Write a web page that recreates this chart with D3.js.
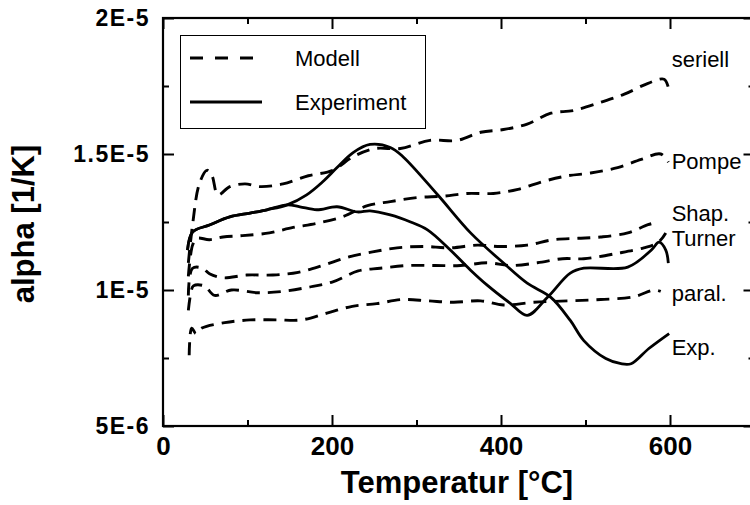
<!DOCTYPE html>
<html>
<head>
<meta charset="utf-8">
<script src="https://cdn.jsdelivr.net/npm/d3@7"></script>
<style>
  body { margin: 0; background: #fff; }
  svg { display: block; font-family: "Liberation Sans", Arial, sans-serif; }
</style>
</head>
<body>
<script>
// ---------- data ----------
const xTicks = [0, 200, 400, 600];
const xMinorTicks = [100, 300, 500, 700];
const yTicks = [5e-6, 1e-5, 1.5e-5, 2e-5];
const yTickLabels = ["5E-6", "1E-5", "1.5E-5", "2E-5"];
const yMinorTicks = [7.5e-6, 1.25e-5, 1.75e-5];

// Experiment (solid) – curve ending at "Exp."
const expATemp  = [29, 35, 55, 79, 103, 123, 147, 170, 189, 206, 225, 245, 269, 284, 325, 364, 403, 431, 459, 482, 498, 524, 542, 554, 575, 599];
const expAAlpha = [11.47e-6, 12.13e-6, 12.39e-6, 12.69e-6, 12.83e-6, 12.95e-6, 13.13e-6, 13.50e-6, 13.98e-6, 14.50e-6, 15.05e-6, 15.35e-6, 15.24e-6, 14.90e-6, 13.50e-6, 12.10e-6, 10.99e-6, 10.25e-6, 9.73e-6, 8.88e-6, 8.14e-6, 7.48e-6, 7.29e-6, 7.29e-6, 7.85e-6, 8.40e-6];
// Experiment (solid) – second curve
const expBTemp  = [29, 35, 55, 79, 103, 123, 147, 162, 182, 206, 230, 245, 269, 293, 313, 340, 364, 384, 411, 431, 455, 482, 498, 550, 578, 587, 595, 598];
const expBAlpha = [11.47e-6, 12.13e-6, 12.39e-6, 12.69e-6, 12.83e-6, 12.95e-6, 13.13e-6, 13.06e-6, 12.95e-6, 13.06e-6, 12.87e-6, 12.91e-6, 12.76e-6, 12.50e-6, 12.21e-6, 11.47e-6, 10.73e-6, 10.17e-6, 9.51e-6, 9.07e-6, 9.73e-6, 10.62e-6, 10.80e-6, 10.84e-6, 11.47e-6, 11.76e-6, 11.47e-6, 10.99e-6];

// Model curves (dashed)
const seriellTemp  = [30, 35, 43, 52, 58, 65, 79, 97, 115, 142, 172, 201, 225, 251, 281, 316, 348, 376, 403, 431, 459, 486, 518, 546, 574, 593, 598];
const seriellAlpha = [11.0e-6, 12.4e-6, 13.9e-6, 14.4e-6, 14.2e-6, 13.5e-6, 13.8e-6, 13.9e-6, 13.8e-6, 13.9e-6, 14.2e-6, 14.4e-6, 14.9e-6, 15.2e-6, 15.2e-6, 15.5e-6, 15.5e-6, 15.8e-6, 15.9e-6, 16.1e-6, 16.5e-6, 16.6e-6, 16.9e-6, 17.2e-6, 17.6e-6, 17.75e-6, 17.45e-6];

const pompeTemp  = [30, 35, 40, 55, 71, 94, 126, 154, 182, 213, 242, 269, 301, 332, 360, 391, 420, 451, 479, 506, 538, 566, 589, 598];
const pompeAlpha = [10.5e-6, 11.65e-6, 11.9e-6, 11.85e-6, 11.95e-6, 12.0e-6, 12.1e-6, 12.3e-6, 12.45e-6, 12.7e-6, 13.1e-6, 13.25e-6, 13.4e-6, 13.45e-6, 13.55e-6, 13.55e-6, 13.7e-6, 14.0e-6, 14.2e-6, 14.3e-6, 14.5e-6, 14.8e-6, 15.0e-6, 14.7e-6];

const shapTemp  = [30, 35, 47, 55, 71, 99, 130, 160, 189, 218, 248, 277, 308, 340, 372, 399, 431, 462, 491, 518, 550, 574, 586];
const shapAlpha = [9.8e-6, 10.8e-6, 10.8e-6, 10.6e-6, 10.45e-6, 10.55e-6, 10.55e-6, 10.65e-6, 10.9e-6, 11.2e-6, 11.4e-6, 11.55e-6, 11.6e-6, 11.55e-6, 11.65e-6, 11.6e-6, 11.65e-6, 11.85e-6, 11.9e-6, 11.95e-6, 12.1e-6, 12.4e-6, 12.5e-6];

const turnerTemp  = [30, 33, 36, 49, 61, 81, 112, 142, 172, 201, 231, 257, 290, 322, 352, 384, 411, 443, 473, 498, 538, 569, 586, 595];
const turnerAlpha = [9.25e-6, 9.9e-6, 10.15e-6, 10.15e-6, 9.8e-6, 10.0e-6, 9.9e-6, 9.95e-6, 10.1e-6, 10.3e-6, 10.7e-6, 10.8e-6, 10.9e-6, 10.9e-6, 10.9e-6, 11.0e-6, 10.9e-6, 11.0e-6, 11.15e-6, 11.15e-6, 11.35e-6, 11.55e-6, 11.75e-6, 12.1e-6];

const paralTemp  = [31, 34, 39, 46, 73, 103, 135, 164, 194, 224, 253, 283, 314, 344, 376, 403, 439, 479, 518, 557, 581, 589];
const paralAlpha = [7.6e-6, 8.6e-6, 8.4e-6, 8.6e-6, 8.8e-6, 8.9e-6, 8.9e-6, 8.9e-6, 9.15e-6, 9.4e-6, 9.5e-6, 9.65e-6, 9.6e-6, 9.55e-6, 9.6e-6, 9.45e-6, 9.55e-6, 9.6e-6, 9.65e-6, 9.75e-6, 10.0e-6, 9.95e-6];

// curve annotations (text, anchor temperature, anchor alpha at baseline)
const curveLabels = ["seriell", "Pompe", "Shap.", "Turner", "paral.", "Exp."];
const curveLabelTemp  = [602, 602, 602, 602, 602, 602];
const curveLabelAlpha = [18.2e-6, 14.45e-6, 12.55e-6, 11.62e-6, 9.6e-6, 7.6e-6];

const legendLabels = ["Modell", "Experiment"];

// ---------- drawing ----------
const W = 750, H = 505;
const svg = d3.select("body").append("svg").attr("width", W).attr("height", H);

const x = d3.scaleLinear().domain([0, 700]).range([163, 754.5]);
const y = d3.scaleLinear().domain([5e-6, 2e-5]).range([426, 18]);

const line = d3.line().x(d => x(d[0])).y(d => y(d[1])).curve(d3.curveCatmullRom.alpha(0.5));
const zip = (a, b) => a.map((v, i) => [v, b[i]]);

const dash = "13,8";

// model curves
[[seriellTemp, seriellAlpha], [pompeTemp, pompeAlpha], [shapTemp, shapAlpha],
 [turnerTemp, turnerAlpha], [paralTemp, paralAlpha]].forEach(([t, a]) => {
  svg.append("path").datum(zip(t, a)).attr("d", line)
    .attr("fill", "none").attr("stroke", "#000").attr("stroke-width", 2.9)
    .attr("stroke-dasharray", dash);
});
// experiment curves
[[expATemp, expAAlpha], [expBTemp, expBAlpha]].forEach(([t, a]) => {
  svg.append("path").datum(zip(t, a)).attr("d", line)
    .attr("fill", "none").attr("stroke", "#000").attr("stroke-width", 2.8)
    .attr("stroke-linejoin", "round");
});

// frame
svg.append("rect")
  .attr("x", x(0)).attr("y", y(2e-5))
  .attr("width", x(700) - x(0)).attr("height", y(5e-6) - y(2e-5))
  .attr("fill", "none").attr("stroke", "#000").attr("stroke-width", 2.2);

function styleAxis(g) {
  g.select(".domain").remove();
  g.selectAll(".tick line").attr("stroke", "#000").attr("stroke-width", 2);
}

// bottom axis
svg.append("g").attr("transform", `translate(0,${y(5e-6)})`)
  .call(d3.axisBottom(x).tickValues(xTicks).tickSizeInner(-11).tickSizeOuter(0).tickPadding(11).tickFormat(d => String(d)))
  .call(styleAxis)
  .call(g => g.selectAll("text").attr("font-size", 26).attr("font-weight", "bold").attr("fill", "#000")
    .attr("font-family", "Liberation Sans, Arial, sans-serif"));
svg.append("g").attr("transform", `translate(0,${y(5e-6)})`)
  .call(d3.axisBottom(x).tickValues(xMinorTicks).tickSizeInner(-6).tickSizeOuter(0).tickFormat(""))
  .call(styleAxis);
// top axis
svg.append("g").attr("transform", `translate(0,${y(2e-5)})`)
  .call(d3.axisTop(x).tickValues(xTicks.concat([700])).tickSizeInner(-11).tickSizeOuter(0).tickFormat(""))
  .call(styleAxis);
svg.append("g").attr("transform", `translate(0,${y(2e-5)})`)
  .call(d3.axisTop(x).tickValues(xMinorTicks).tickSizeInner(-6).tickSizeOuter(0).tickFormat(""))
  .call(styleAxis);
// left axis
svg.append("g").attr("transform", `translate(${x(0)},0)`)
  .call(d3.axisLeft(y).tickValues(yTicks).tickSizeInner(-11).tickSizeOuter(0).tickPadding(13)
    .tickFormat((d, i) => yTickLabels[i]))
  .call(styleAxis)
  .call(g => g.selectAll("text").attr("font-size", 23).attr("font-weight", "bold").attr("fill", "#000")
    .attr("letter-spacing", "1.5px")
    .attr("font-family", "Liberation Sans, Arial, sans-serif"));
svg.append("g").attr("transform", `translate(${x(0)},0)`)
  .call(d3.axisLeft(y).tickValues(yMinorTicks).tickSizeInner(-6).tickSizeOuter(0).tickFormat(""))
  .call(styleAxis);
// right axis
svg.append("g").attr("transform", `translate(${x(700)},0)`)
  .call(d3.axisRight(y).tickValues(yTicks).tickSizeInner(-11).tickSizeOuter(0).tickFormat(""))
  .call(styleAxis);
svg.append("g").attr("transform", `translate(${x(700)},0)`)
  .call(d3.axisRight(y).tickValues(yMinorTicks).tickSizeInner(-6).tickSizeOuter(0).tickFormat(""))
  .call(styleAxis);

// axis titles
svg.append("text")
  .attr("x", 457).attr("y", 493)
  .attr("text-anchor", "middle").attr("font-size", 31).attr("font-weight", "bold")
  .text("Temperatur [°C]");
svg.append("text")
  .attr("transform", "translate(34,224) rotate(-90)")
  .attr("text-anchor", "middle").attr("font-size", 31).attr("font-weight", "bold")
  .text("alpha [1/K]");

// curve labels
curveLabels.forEach((t, i) => {
  svg.append("text")
    .attr("x", x(curveLabelTemp[i])).attr("y", y(curveLabelAlpha[i]))
    .attr("font-size", 22).attr("fill", "#000")
    .text(t);
});

// legend
const lg = svg.append("g");
lg.append("rect").attr("x", 180.5).attr("y", 35.5).attr("width", 245).attr("height", 93)
  .attr("fill", "#fff").attr("stroke", "#000").attr("stroke-width", 1);
lg.append("line").attr("x1", 190).attr("x2", 259).attr("y1", 58).attr("y2", 58)
  .attr("stroke", "#000").attr("stroke-width", 2.9).attr("stroke-dasharray", "13,12");
lg.append("line").attr("x1", 190).attr("x2", 262).attr("y1", 102).attr("y2", 102)
  .attr("stroke", "#000").attr("stroke-width", 2.8);
lg.selectAll("text.lab").data(legendLabels).enter().append("text")
  .attr("x", 295).attr("y", (d, i) => i === 0 ? 66 : 110)
  .attr("font-size", 22).attr("fill", "#000")
  .text(d => d);
</script>
</body>
</html>
